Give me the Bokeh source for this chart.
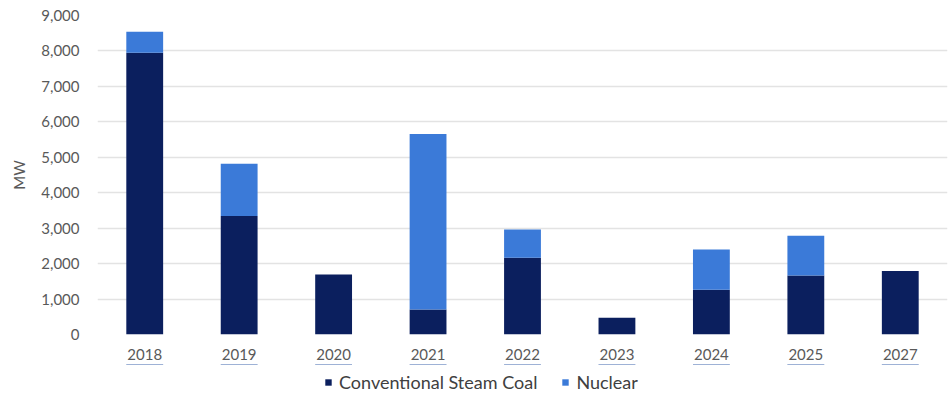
from bokeh.plotting import figure
from bokeh.layouts import column
from bokeh.models import ColumnDataSource, Legend, LegendItem, NumeralTickFormatter, FixedTicker, Range1d
from bokeh.embed import file_html
from bokeh.resources import INLINE

years = ["2018", "2019", "2020", "2021", "2022", "2023", "2024", "2025", "2027"]
coal = [7950, 3340, 1690, 705, 2165, 475, 1265, 1665, 1790]
nuclear = [590, 1480, 0, 4950, 800, 0, 1130, 1120, 0]
series = ["coal", "nuclear"]
series_labels = ["Conventional Steam Coal", "Nuclear"]
colors = ["#0b1f5e", "#3b7ad8"]
y_ticks = [0, 1000, 2000, 3000, 4000, 5000, 6000, 7000, 8000, 9000]

src = ColumnDataSource(dict(years=years, coal=coal, nuclear=nuclear))

p = figure(x_range=years, frame_width=850, frame_height=319, output_backend="svg",
           toolbar_location=None, min_border_left=97, min_border_right=4,
           min_border_top=15, min_border_bottom=30)
p.y_range = Range1d(0, 9000)
p.x_range.range_padding = 0

rs = p.vbar_stack(series, x="years", width=0.39, color=colors, source=src, line_width=0)

p.outline_line_color = None
p.xgrid.grid_line_color = None
p.ygrid.grid_line_color = "#e3e3e3"
p.ygrid.grid_line_width = 1.5

p.yaxis.ticker = FixedTicker(ticks=y_ticks)
p.yaxis.formatter = NumeralTickFormatter(format="0,0")
for ax in (p.xaxis[0], p.yaxis[0]):
    ax.axis_line_color = None
    ax.major_tick_line_color = None
    ax.minor_tick_line_color = None
    ax.major_label_text_font = "Lato"
    ax.major_label_text_font_size = "15px"
    ax.major_label_text_color = "#595959"
p.yaxis.major_label_standoff = 12
p.xaxis.major_label_standoff = 8
p.yaxis.axis_label = "MW"
p.yaxis.axis_label_text_font = "Lato"
p.yaxis.axis_label_text_font_style = "normal"
p.yaxis.axis_label_text_font_size = "15px"
p.yaxis.axis_label_text_color = "#595959"
p.yaxis.axis_label_standoff = 10

# legend strip below the chart (same stacked series, kept far out of view so only the legend shows)
p2 = figure(x_range=years, width=951, height=29, output_backend="svg", toolbar_location=None,
            min_border=0)
p2.y_range = Range1d(-200000, -100000)
p2.axis.visible = False
p2.grid.visible = False
p2.outline_line_color = None
rs2 = p2.vbar_stack(series, x="years", width=0.39, color=colors, source=src, line_width=0)

legend = Legend(items=[LegendItem(label=series_labels[i], renderers=[rs2[i]]) for i in range(2)],
                orientation="horizontal", location=(227, 0),
                label_text_font="Lato", label_text_font_size="18px",
                label_text_color="#404040", glyph_width=8, glyph_height=8,
                spacing=24, label_standoff=7, border_line_color=None,
                background_fill_alpha=0, padding=0, margin=0)
p2.add_layout(legend, "center")

layout = column(p, p2, spacing=0)
open("out.html", "w").write(file_html(layout, INLINE))
